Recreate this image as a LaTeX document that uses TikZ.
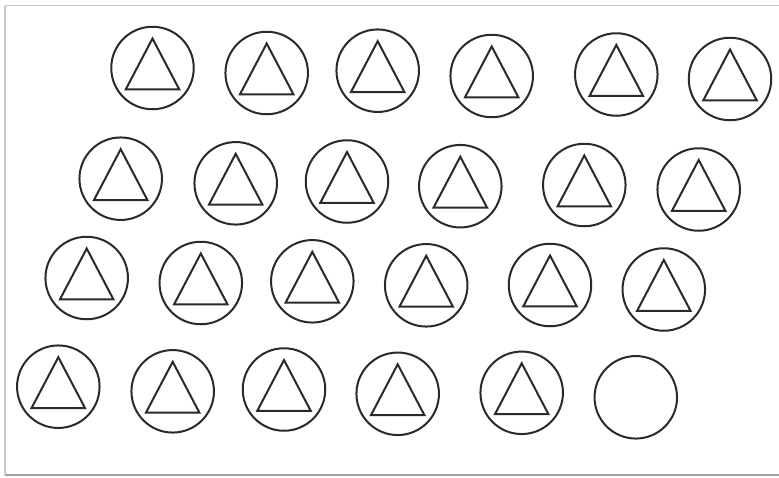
\documentclass[tikz,border=0pt]{standalone}
\definecolor{ink}{HTML}{2A2A2A}
\definecolor{frameA}{HTML}{C8C8C8}
\definecolor{frameB}{HTML}{A0A0A0}
\tikzset{
  ring/.style={circle,draw=ink,line width=2pt,minimum size=82.5pt,inner sep=0pt},
  tri/.style={draw=ink,line width=2pt,line join=miter},
}
\begin{document}
\begin{tikzpicture}[x=1pt,y=-1pt]
\useasboundingbox (0,0) rectangle (779,477);
\fill[white] (0,0) rectangle (779,477);
% frame
\draw[frameA,line width=1.8pt] (5,5.5) -- (779,5.5);
\draw[frameA,line width=1.4pt] (5,5.5) -- (5,475);
\draw[frameB,line width=1.4pt] (5,475) -- (779,475);
% circles
\foreach \n/\x/\y in {
  1/152.5/68, 2/266.7/73, 3/377.7/70.7, 4/491.7/76, 5/616.3/74.5, 6/730/79,
  7/120.7/178.7, 8/235.7/183.3, 9/347/181.5, 10/460.3/186.2, 11/584.3/185, 12/698.7/189.5,
  13/86.7/278, 14/200.8/283, 15/312.3/281.3, 16/426.2/285.3, 17/550/285, 18/663.8/289.5,
  19/58.3/386.7, 20/172.7/391.3, 21/284/389.5, 22/397.7/393.8, 23/521.7/392.8, 24/635.8/397.3}
  {\node[ring] (c\n) at (\x,\y) {};}
% triangles
\foreach \n in {1,...,23}
  {\draw[tri] ([shift={(0,-29.5)}]c\n.center) -- ([shift={(26.7,21.3)}]c\n.center)
     -- ([shift={(-26.7,21.3)}]c\n.center) -- cycle;}
\end{tikzpicture}
\end{document}
